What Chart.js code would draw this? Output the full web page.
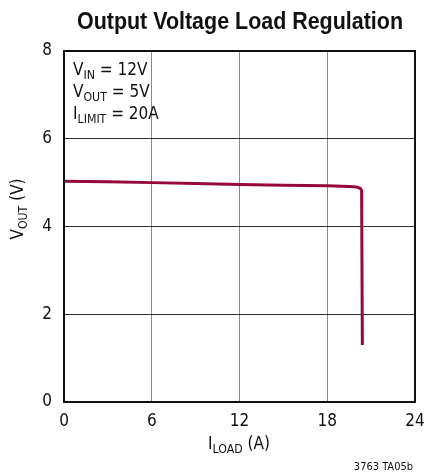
<!DOCTYPE html>
<html>
<head>
<meta charset="utf-8">
<script src="https://cdn.jsdelivr.net/npm/chart.js@4"></script>
<style>
  html, body { margin: 0; padding: 0; background: #fff; }
  #wrap { width: 426px; height: 473px; }
</style>
</head>
<body>
<div id="wrap"><canvas id="myChart" width="426" height="473"></canvas></div>
<script>
// data
var loadCurrent   = [0, 3, 6, 9, 12, 15, 18, 19.5, 20.0, 20.25, 20.35, 20.4];
var outputVoltage = [5.03, 5.02, 5.00, 4.98, 4.96, 4.94, 4.93, 4.91, 4.90, 4.87, 4.82, 1.30];
var xTicks = [0, 6, 12, 18, 24];
var yTicks = [0, 2, 4, 6, 8];

var FONT = '"DejaVu Sans Condensed", "Liberation Sans Narrow", sans-serif';

// draws text with a subscript part: parts = [[text, isSub], ...]
function drawParts(ctx, parts, x, y, size, align) {
    var total = 0;
    parts.forEach(function (p) {
        ctx.font = (p[1] ? size * 0.72 : size) + 'px ' + FONT;
        total += ctx.measureText(p[0]).width;
    });
    var cx = align === 'center' ? x - total / 2 : x;
    parts.forEach(function (p) {
        ctx.font = (p[1] ? size * 0.72 : size) + 'px ' + FONT;
        ctx.fillText(p[0], cx, p[1] ? y + size * 0.22 : y);
        cx += ctx.measureText(p[0]).width;
    });
}

var labelsPlugin = {
    id: 'labels',
    afterDraw: function (chart) {
        var ctx = chart.ctx;
        ctx.save();
        ctx.fillStyle = '#111';
        ctx.textBaseline = 'alphabetic';

        // title, squeezed to the condensed width of the original
        var title = 'Output Voltage Load Regulation';
        ctx.font = 'bold 24px "Liberation Sans", sans-serif';
        var sx = 326 / ctx.measureText(title).width;
        ctx.save();
        ctx.translate(240, 29);
        ctx.scale(sx, 1);
        ctx.textAlign = 'center';
        ctx.fillText(title, 0, 0);
        ctx.restore();

        ctx.textAlign = 'left';
        drawParts(ctx, [['V', false], ['IN', true], [' = 12V', false]], 73, 75, 17);
        drawParts(ctx, [['V', false], ['OUT', true], [' = 5V', false]], 73, 97, 17);
        drawParts(ctx, [['I', false], ['LIMIT', true], [' = 20A', false]], 73, 119, 17);

        drawParts(ctx, [['I', false], ['LOAD', true], [' (A)', false]], 239, 449, 17, 'center');

        ctx.save();
        ctx.translate(23, 209);
        ctx.rotate(-Math.PI / 2);
        drawParts(ctx, [['V', false], ['OUT', true], [' (V)', false]], 0, 0, 17, 'center');
        ctx.restore();

        ctx.textAlign = 'right';
        ctx.font = '11px ' + FONT;
        ctx.fillText('3763 TA05b', 413, 470);

        // plot frame
        var a = chart.chartArea;
        ctx.strokeStyle = '#111';
        ctx.lineWidth = 2;
        ctx.strokeRect(a.left, a.top, a.right - a.left, a.bottom - a.top);
        ctx.restore();
    }
};

var ctx = document.getElementById('myChart').getContext('2d');
var chart = new Chart(ctx, {
    type: 'line',
    data: {
        datasets: [{
            data: loadCurrent.map(function (x, i) { return { x: x, y: outputVoltage[i] }; }),
            borderColor: '#960a38',
            borderWidth: 3,
            pointRadius: 0,
            tension: 0,
            fill: false
        }]
    },
    options: {
        responsive: false,
        animation: false,
        layout: { padding: { left: 0, right: 11, top: 51, bottom: 0 } },
        plugins: { legend: { display: false }, tooltip: { enabled: false } },
        scales: {
            x: {
                type: 'linear',
                min: 0, max: 24,
                afterFit: function (s) {
                    s.height = 71;
                    s.paddingLeft = 0;
                    s.paddingRight = 0;
                },
                afterBuildTicks: function (s) { s.ticks = xTicks.map(function (v) { return { value: v }; }); },
                grid: { color: '#8a8a8a', lineWidth: 1, drawTicks: false },
                border: { display: false },
                ticks: { color: '#111', padding: 9, font: { family: FONT, size: 17 } }
            },
            y: {
                min: 0, max: 8,
                afterFit: function (s) {
                    s.width = 64;
                    s.paddingTop = 0;
                    s.paddingBottom = 0;
                },
                afterBuildTicks: function (s) { s.ticks = yTicks.map(function (v) { return { value: v }; }); },
                grid: { color: '#333', lineWidth: 1, drawTicks: false },
                border: { display: false },
                ticks: { color: '#111', padding: 12, font: { family: FONT, size: 17 } }
            }
        }
    },
    plugins: [labelsPlugin]
});
</script>
</body>
</html>
